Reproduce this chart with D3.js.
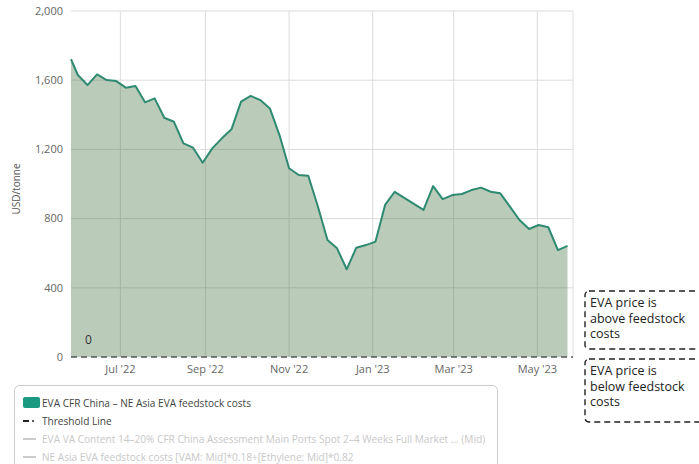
<!DOCTYPE html>
<html>
<head>
<meta charset="utf-8">
<script src="https://cdn.jsdelivr.net/npm/d3@7"></script>
<style>
  body { margin: 0; background: #fff; }
  svg { font-family: "Open Sans", sans-serif; }
</style>
</head>
<body>
<script>
const width = 699;
const height = 464;
const margin = { top: 11, right: 126, bottom: 107, left: 71 };

// first assessment, then weekly from 31 May 2022
const firstDate = "2022-05-26";
const weeklyStart = "2022-05-31";
const spreadValues = [
  1721, 1630, 1572, 1634, 1601, 1595, 1557, 1566, 1472, 1495,
  1383, 1360, 1235, 1210, 1123, 1206, 1264, 1316, 1476, 1509,
  1485, 1437, 1283, 1091, 1052, 1048, 870, 676, 628, 507,
  632, 647, 667, 879, 955, 920, 885, 850, 988, 913,
  936, 942, 965, 979, 955, 946, 869, 792, 740, 763,
  750, 618, 642
];
const yTicks = [0, 400, 800, 1200, 1600, 2000];
const xTickDates = ["2022-07-01", "2022-09-01", "2022-11-01", "2023-01-01", "2023-03-01", "2023-05-01"];
const legendLabels = [
  "EVA CFR China – NE Asia EVA feedstock costs",
  "Threshold Line",
  "EVA VA Content 14–20% CFR China Assessment Main Ports Spot 2–4 Weeks Full Market ... (Mid)",
  "NE Asia EVA feedstock costs [VAM: Mid]*0.18+[Ethylene: Mid]*0.82"
];
const noteLines = [
  ["EVA price is", "above feedstock", "costs"],
  ["EVA price is", "below feedstock", "costs"]
];

const parse = d3.utcParse("%Y-%m-%d");
const data = spreadValues.map(function(v, i) {
  const date = i === 0 ? parse(firstDate) : d3.utcDay.offset(parse(weeklyStart), 7 * (i - 1));
  return { date: date, value: v };
});

const svg = d3.select("body").append("svg")
  .attr("width", width)
  .attr("height", height);

const x = d3.scaleUtc()
  .domain([parse("2022-05-26"), parse("2023-05-27")])
  .range([margin.left, width - margin.right]);

const y = d3.scaleLinear()
  .domain([0, 2000])
  .range([height - margin.bottom, margin.top]);

// grid
svg.append("g")
  .selectAll("line.h")
  .data(yTicks.filter(d => d > 0))
  .join("line")
  .attr("x1", margin.left).attr("x2", width - margin.right)
  .attr("y1", d => y(d)).attr("y2", d => y(d))
  .attr("stroke", "#dcdcdc").attr("stroke-width", 1);

svg.append("g")
  .selectAll("line.v")
  .data(xTickDates.map(parse).concat([x.domain()[1]]))
  .join("line")
  .attr("x1", d => x(d)).attr("x2", d => x(d))
  .attr("y1", margin.top).attr("y2", y(0))
  .attr("stroke", "#dcdcdc").attr("stroke-width", 1);

// area + line
const area = d3.area()
  .x(d => x(d.date))
  .y0(y(0))
  .y1(d => y(d.value));

const line = d3.line()
  .x(d => x(d.date))
  .y(d => y(d.value));

svg.append("path")
  .datum(data)
  .attr("d", area)
  .attr("fill", "rgb(58,106,58)")
  .attr("fill-opacity", 0.35);

svg.append("path")
  .datum(data)
  .attr("d", line)
  .attr("fill", "none")
  .attr("stroke", "#2f8a72")
  .attr("stroke-width", 2)
  .attr("stroke-linejoin", "round");

// threshold line
svg.append("line")
  .attr("x1", margin.left).attr("x2", width - margin.right)
  .attr("y1", y(0)).attr("y2", y(0))
  .attr("stroke", "#555")
  .attr("stroke-width", 1.3)
  .attr("stroke-dasharray", "6,4");

svg.append("text")
  .attr("x", 85).attr("y", y(0) - 13)
  .attr("font-size", 12)
  .attr("fill", "#333")
  .text("0");

// y axis labels
svg.append("g")
  .selectAll("text")
  .data(yTicks)
  .join("text")
  .attr("x", 63)
  .attr("y", d => y(d))
  .attr("dy", "0.35em")
  .attr("text-anchor", "end")
  .attr("font-size", 11)
  .attr("fill", "#666")
  .text(d3.format(","));

svg.append("text")
  .attr("transform", "translate(20," + ((margin.top + y(0)) / 2 + 5) + ") rotate(-90)")
  .attr("text-anchor", "middle")
  .attr("font-size", 10)
  .attr("fill", "#555")
  .text("USD/tonne");

// x axis labels
const fmt = d3.utcFormat("%b '%y");
svg.append("g")
  .selectAll("text")
  .data(xTickDates.map(parse))
  .join("text")
  .attr("x", d => x(d))
  .attr("y", y(0) + 16)
  .attr("text-anchor", "middle")
  .attr("font-size", 11)
  .attr("fill", "#666")
  .text(d => fmt(d));

// legend
const legend = svg.append("g");
legend.append("rect")
  .attr("x", 14.5).attr("y", 385.5)
  .attr("width", 483).attr("height", 100)
  .attr("rx", 5)
  .attr("fill", "#fff")
  .attr("stroke", "#ccc");

const rowY = [403, 421, 439, 457];
legendLabels.forEach(function(label, i) {
  const g = legend.append("g").attr("transform", "translate(0," + rowY[i] + ")");
  if (i === 0) {
    g.append("rect").attr("x", 23).attr("y", -6).attr("width", 17).attr("height", 11)
      .attr("rx", 2).attr("fill", "#1a9a80");
  } else if (i === 1) {
    g.append("line").attr("x1", 23).attr("x2", 29).attr("y1", 0).attr("y2", 0)
      .attr("stroke", "#222").attr("stroke-width", 2);
    g.append("circle").attr("cx", 33).attr("cy", 0).attr("r", 1).attr("fill", "#222");
  } else {
    g.append("line").attr("x1", 23).attr("x2", 36).attr("y1", 0).attr("y2", 0)
      .attr("stroke", "#ccc").attr("stroke-width", 2);
  }
  g.append("text")
    .attr("x", 42).attr("y", 0).attr("dy", "0.35em")
    .attr("font-size", 10.1)
    .attr("fill", i < 2 ? "#444" : "#c8c8c8")
    .text(label);
});

// side notes
const noteY = [291, 359];
noteLines.forEach(function(lines, i) {
  const g = svg.append("g").attr("transform", "translate(585," + noteY[i] + ")");
  g.append("rect")
    .attr("x", 0).attr("y", 0)
    .attr("width", 170).attr("height", i === 0 ? 58 : 63)
    .attr("rx", 4)
    .attr("fill", "none")
    .attr("stroke", "#222")
    .attr("stroke-width", 1.4)
    .attr("stroke-dasharray", "6,4");
  g.selectAll("text")
    .data(lines)
    .join("text")
    .attr("x", 5)
    .attr("y", (d, j) => 16 + j * 15.5)
    .attr("font-size", 12.5)
    .attr("fill", "#222")
    .text(d => d);
});
</script>
</body>
</html>
